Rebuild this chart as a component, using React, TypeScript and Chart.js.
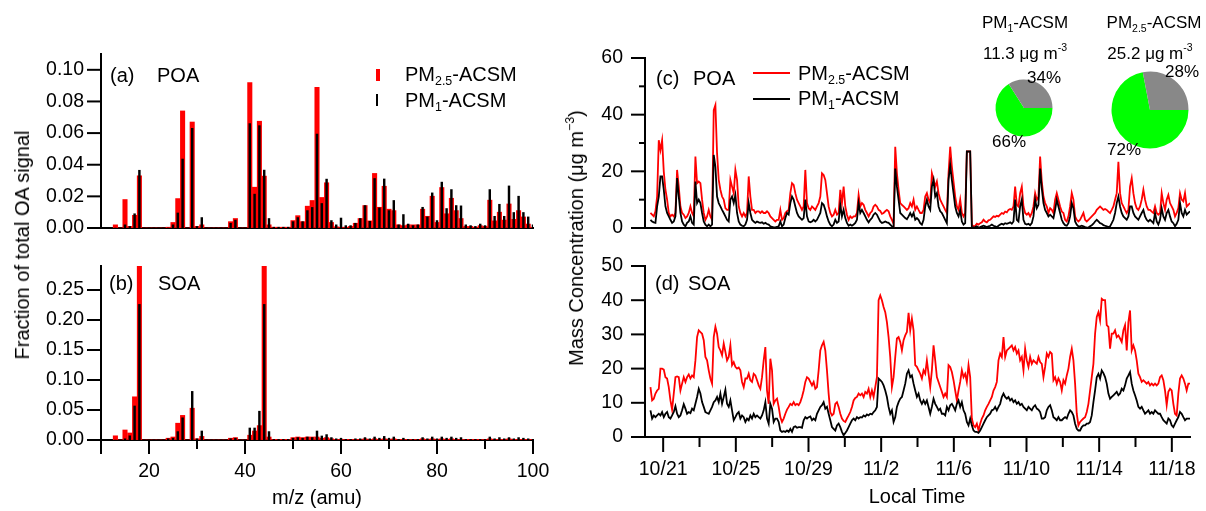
import React, { useEffect, useRef } from 'react';
import { Chart, registerables } from 'chart.js';

Chart.register(...registerables);

const FONT = '"Liberation Sans", Arial, Helvetica, sans-serif';
const TICK_SIZE = 19.5;
const LABEL_SIZE = 20;
const PIE_TEXT_SIZE = 17;
const RED = '#ff0000';
const BLACK = '#000000';

// ---------------- Mass spectra (panels a, b) ----------------
const massToCharge = [
  13, 14, 15, 16, 17, 18, 19, 20, 21, 22,
  23, 24, 25, 26, 27, 28, 29, 30, 31, 32,
  33, 34, 35, 36, 37, 38, 39, 40, 41, 42,
  43, 44, 45, 46, 47, 48, 49, 50, 51, 52,
  53, 54, 55, 56, 57, 58, 59, 60, 61, 62,
  63, 64, 65, 66, 67, 68, 69, 70, 71, 72,
  73, 74, 75, 76, 77, 78, 79, 80, 81, 82,
  83, 84, 85, 86, 87, 88, 89, 90, 91, 92,
  93, 94, 95, 96, 97, 98, 99, 100,
];

const poaFractionPM25 = [
  0.002, 0, 0.018, 0.001, 0.008, 0.033, 0, 0, 0, 0,
  0, 0.0005, 0.0035, 0.0186, 0.074, 0, 0.067, 0.001, 0.002, 0,
  0, 0, 0, 0, 0.004, 0.006, 0, 0, 0.092, 0.0258,
  0.0675, 0.0328, 0.002, 0.0005, 0.0005, 0.0005, 0.0005, 0.0047, 0.0078, 0.004,
  0.0138, 0.0174, 0.089, 0.0193, 0.0286, 0.0035, 0.0008, 0.0005, 0.0005, 0.001,
  0.003, 0.006, 0.0142, 0.0045, 0.0345, 0.0131, 0.0264, 0.0119, 0.011, 0.002,
  0.0015, 0.002, 0.002, 0.002, 0.0119, 0.0074, 0.0201, 0.0035, 0.0256, 0.009,
  0.0188, 0.011, 0.006, 0.001, 0.001, 0.0005, 0.0015, 0.001, 0.0176, 0.0045,
  0.01, 0.005, 0.0152, 0.0055, 0.011, 0.007, 0.0025, 0.0005,
];

const poaFractionPM1 = [
  0, 0, 0.002, 0.001, 0.009, 0.0365, 0, 0, 0, 0,
  0, 0, 0.002, 0.0095, 0.0436, 0, 0.063, 0.001, 0.0066, 0,
  0, 0, 0, 0, 0.003, 0.005, 0, 0, 0.066, 0.0214,
  0.0647, 0.0366, 0.006, 0.0005, 0.0005, 0.0005, 0.0005, 0.004, 0.0066, 0.004,
  0.011, 0.013, 0.0594, 0.0155, 0.0309, 0.0047, 0.002, 0.0063, 0.0015, 0.0015,
  0.003, 0.006, 0.0142, 0.0042, 0.0313, 0.0127, 0.031, 0.011, 0.0174, 0.002,
  0.0085, 0.0025, 0.0015, 0.002, 0.0131, 0.007, 0.0222, 0.0047, 0.029, 0.0123,
  0.0243, 0.0142, 0.014, 0.002, 0.0015, 0.001, 0.0025, 0.0015, 0.0243, 0.0074,
  0.015, 0.0074, 0.0266, 0.0098, 0.0201, 0.0098, 0.007, 0.002,
];

const soaFractionPM25 = [
  0.007, 0, 0.0167, 0.0117, 0.072, 0.31, 0, 0, 0, 0,
  0, 0.003, 0.005, 0.028, 0.041, 0, 0.053, 0.002, 0.006, 0,
  0, 0, 0, 0, 0.003, 0.004, 0, 0, 0.008, 0.015,
  0.024, 0.31, 0.005, 0.001, 0.001, 0.001, 0.001, 0.004, 0.005, 0.004,
  0.005, 0.005, 0.005, 0.003, 0.004, 0.002, 0.001, 0.001, 0.001, 0.001,
  0.001, 0.001, 0.002, 0.001, 0.002, 0.001, 0.002, 0.001, 0.002, 0.001,
  0.001, 0.001, 0.001, 0.001, 0.002, 0.001, 0.002, 0.001, 0.002, 0.001,
  0.002, 0.001, 0.001, 0.001, 0.001, 0.001, 0.001, 0.001, 0.002, 0.001,
  0.001, 0.001, 0.002, 0.001, 0.001, 0.001, 0.001, 0.001,
];

const soaFractionPM1 = [
  0, 0, 0.002, 0.007, 0.0567, 0.226, 0, 0, 0, 0,
  0, 0.002, 0.003, 0.014, 0.037, 0, 0.081, 0.002, 0.015, 0,
  0, 0, 0, 0, 0.002, 0.003, 0, 0, 0.02, 0.02,
  0.048, 0.226, 0.014, 0.001, 0.001, 0.001, 0.001, 0.003, 0.004, 0.003,
  0.005, 0.004, 0.015, 0.0067, 0.009, 0.004, 0.002, 0.003, 0.001, 0.001,
  0.002, 0.002, 0.004, 0.002, 0.005, 0.003, 0.006, 0.003, 0.005, 0.001,
  0.003, 0.001, 0.001, 0.001, 0.004, 0.002, 0.005, 0.002, 0.005, 0.003,
  0.005, 0.003, 0.004, 0.001, 0.001, 0.001, 0.001, 0.001, 0.005, 0.002,
  0.004, 0.002, 0.004, 0.002, 0.004, 0.003, 0.002, 0.001,
];

const massTickValues = [20, 40, 60, 80, 100];
const massMinorTicks = [10, 30, 50, 70, 90];
const poaFractionTicks = [0, 0.02, 0.04, 0.06, 0.08, 0.1];
const soaFractionTicks = [0, 0.05, 0.1, 0.15, 0.2, 0.25];

// ---------------- Time series (panels c, d) ----------------
// days since 10/20 00:00, evenly spaced samples
const firstSampleDay = 0.3;
const lastSampleDay = 30.0;
const sampleCount = 325;

const poaConcPM25 = [
  5.3, 4.7, 4.1, 5.9, 11.1, 31.0, 27.5, 31.0, 19.9, 13.5,
  10.0, 5.3, 4.1, 4.7, 4.1, 5.3, 20.5, 14.6, 7.6, 5.3,
  4.7, 3.5, 4.1, 5.3, 7.6, 5.3, 4.1, 25.2, 15.8, 16.4,
  15.8, 10.0, 5.3, 2.9, 4.1, 6.4, 4.1, 2.9, 41.6, 43.4,
  26.4, 17.0, 13.5, 11.1, 10.0, 7.0, 6.4, 6.4, 17.0, 14.6,
  12.3, 20.5, 17.0, 7.6, 5.3, 4.1, 5.3, 4.1, 5.3, 18.2,
  11.1, 6.4, 6.4, 5.3, 5.9, 5.9, 5.3, 5.9, 5.3, 5.3,
  5.9, 5.3, 4.1, 3.5, 2.9, 2.3, 2.9, 2.9, 6.4, 2.9,
  3.5, 5.3, 5.9, 6.4, 12.3, 15.8, 15.2, 12.3, 10.0, 8.8,
  7.6, 6.4, 7.6, 20.5, 8.8, 7.0, 6.4, 7.6, 7.0, 6.4,
  7.6, 8.8, 11.1, 19.3, 18.7, 17.0, 12.3, 7.6, 5.3, 4.1,
  4.7, 6.4, 4.7, 5.3, 13.5, 8.8, 14.6, 7.6, 4.7, 2.9,
  4.1, 3.5, 4.1, 4.1, 5.3, 11.7, 7.6, 8.8, 8.2, 6.4,
  5.3, 4.1, 5.3, 5.9, 7.6, 8.2, 7.6, 6.4,
  6.0, 5.0, 5.3, 5.9, 6.4, 5.9, 4.1, 2.9, 1.5, 28.7,
  19.3, 13.5, 8.8, 8.2, 7.6, 7.0, 6.4, 7.0, 8.8, 7.6,
  10.0, 6.4, 7.6, 6.4, 5.3, 5.3, 6.4, 11.1, 12.3, 10.0,
  8.8, 19.3, 17.0, 14.6, 16.4, 12.3, 10.0, 8.8, 7.6, 6.4,
  5.3, 19.3, 28.7, 21.7, 16.4, 11.1, 7.6, 6.4, 10.0, 5.3,
  4.1, 5.3, 27.0, 27.0, 27.0, 1.2, 0.6, 0.8, 1.5, 1.2,
  1.7, 2.0, 2.9, 2.3, 2.0, 2.7, 2.9, 3.5, 4.1, 3.9,
  4.3, 4.1, 4.7, 5.3, 5.0, 5.8, 5.5, 6.4, 6.7, 6.4,
  7.6, 14.6, 8.2, 7.6, 12.3, 14.6, 7.6, 5.3, 4.7, 5.3,
  4.1, 5.3, 7.6, 12.3, 10.0, 11.1, 25.2, 16.4, 11.1, 8.8,
  7.6, 5.3, 7.0, 6.4, 5.3, 10.0, 12.3, 10.0, 7.6, 5.8,
  5.3, 2.9, 2.3, 4.1, 7.6, 12.3, 10.0, 4.1, 2.9, 2.3,
  2.9, 4.1, 5.3, 2.9, 2.3, 2.9, 3.5, 4.1, 4.7, 5.3,
  6.4, 7.0, 7.6, 7.0, 6.4, 6.7, 6.4, 5.8, 5.3, 6.4,
  7.6, 10.0, 12.3, 23.4, 12.3, 8.8, 7.6, 6.4, 5.3, 6.4,
  14.6, 17.6, 12.3, 8.8, 7.0, 6.4, 7.6, 10.0, 13.5, 10.0,
  7.6, 6.4, 6.4, 5.8, 5.3, 7.6, 5.3, 4.7, 5.3, 12.3,
  8.8, 6.4, 10.0, 11.7, 8.8, 7.6, 6.4, 4.1, 5.3, 7.0,
  12.3, 10.0, 9.4, 12.3, 7.6, 8.2, 8.8,
];

const poaConcPM1 = [
  2.9, 2.3, 2.0, 1.8, 7.6, 11.1, 18.2, 18.2, 13.5, 7.6,
  5.3, 4.1, 2.9, 1.8, 2.3, 4.1, 17.6, 11.1, 5.3, 2.3,
  1.2, 0.6, 1.8, 2.3, 4.1, 1.8, 1.2, 16.4, 8.8, 10.0,
  8.8, 5.3, 2.3, 1.2, 0.6, 1.2, 0.6, 1.2, 25.8, 21.7,
  11.1, 8.8, 7.6, 6.4, 5.3, 4.1, 2.9, 2.3, 10.0, 11.1,
  8.8, 11.7, 5.3, 2.3, 1.2, 0.8, 0.6, 1.2, 2.9, 8.8,
  5.3, 2.9, 2.3, 1.8, 2.3, 2.0, 1.8, 2.0, 1.5, 1.8,
  1.4, 1.2, 0.6, 0.4, 0.2, 0.2, 0.4, 0.6, 2.3, 0.6,
  1.2, 3.5, 5.3, 4.7, 8.8, 11.1, 10.0, 7.6, 5.3, 4.1,
  3.5, 2.9, 3.5, 10.0, 4.1, 2.3, 2.0, 2.3, 2.9, 2.3,
  2.9, 4.1, 5.3, 8.8, 8.2, 6.4, 4.1, 2.3, 1.2, 0.6,
  1.2, 2.9, 1.8, 2.3, 8.2, 4.1, 6.4, 3.5, 1.8, 0.8,
  1.2, 0.8, 1.2, 1.8, 2.9, 8.8, 5.3, 6.4, 5.3, 4.1,
  2.9, 2.0, 2.9, 3.5, 4.7, 5.3, 4.7, 3.5,
  2.3, 1.8, 2.0, 2.3, 2.0, 1.8, 1.2, 0.6, 0.4, 21.0,
  14.6, 10.0, 5.3, 4.7, 4.1, 3.5, 3.1, 4.1, 5.3, 4.1,
  5.3, 2.9, 3.5, 2.9, 1.7, 1.2, 2.9, 7.6, 10.0, 7.6,
  6.4, 14.6, 17.0, 11.1, 12.3, 7.6, 5.9, 5.3, 4.1, 2.9,
  1.7, 17.0, 22.3, 17.0, 12.3, 7.6, 5.3, 4.1, 6.4, 2.3,
  1.2, 1.7, 27.0, 27.0, 27.0, 0.3, 0.2, 0.3, 0.6, 0.2,
  0.3, 0.6, 0.8, 0.6, 0.3, 0.6, 0.8, 1.2, 0.8, 0.6,
  0.3, 0.8, 1.2, 1.5, 1.2, 1.7, 1.5, 1.7, 2.0, 1.5,
  2.3, 10.0, 2.9, 2.3, 7.6, 10.0, 2.9, 1.5, 1.2, 1.5,
  1.0, 1.7, 4.1, 10.0, 7.0, 8.2, 21.0, 14.0, 8.8, 6.4,
  5.3, 4.1, 4.7, 4.1, 3.5, 6.4, 10.0, 7.6, 5.3, 2.9,
  1.7, 1.0, 0.8, 1.7, 4.1, 8.8, 7.0, 2.3, 1.2, 0.6,
  0.6, 0.8, 0.6, 0.3, 0.1, 0.2, 0.6, 1.0, 1.5, 2.3,
  2.9, 2.3, 1.7, 1.5, 1.0, 0.8, 0.6, 0.3, 0.6, 1.7,
  2.9, 5.3, 8.8, 11.1, 7.6, 5.3, 4.1, 3.5, 2.9, 4.1,
  7.6, 7.6, 5.3, 4.1, 3.5, 2.9, 4.1, 5.3, 6.4, 4.1,
  2.9, 2.3, 2.9, 2.3, 1.7, 5.3, 2.3, 1.2, 2.9, 7.0,
  4.1, 2.9, 5.3, 6.4, 4.1, 2.3, 1.7, 0.6, 1.5, 2.9,
  8.8, 5.3, 4.1, 6.4, 4.7, 5.3, 5.9,
];

const soaConcPM25 = [
  14.6, 10.7, 11.2, 12.7, 13.6, 14.1, 20.0, 20.0, 19.7, 17.5,
  17.1, 14.6, 10.7, 8.0, 12.7, 17.5, 17.7, 17.5, 13.6, 15.6,
  17.5, 16.1, 17.5, 18.3, 17.1, 18.0, 17.5, 22.4, 29.2, 31.2,
  30.7, 30.2, 28.3, 23.4, 22.4, 19.5, 17.1, 15.6, 29.2, 32.2,
  30.2, 26.3, 25.3, 23.9, 27.3, 24.9, 22.4, 23.4, 26.8, 21.0,
  21.9, 20.5, 20.0, 20.3, 19.5, 16.1, 14.6, 17.1, 17.1, 18.5,
  16.6, 16.1, 18.5, 18.0, 16.6, 15.1, 14.1, 17.5, 22.4, 26.3,
  13.6, 9.7, 22.9, 19.5, 9.7, 10.7, 11.2, 8.8, 5.8, 4.4,
  5.4, 6.8, 8.0, 8.8, 9.7, 9.3, 10.2, 9.3, 9.7, 9.3,
  10.2, 11.7, 13.6, 16.1, 17.5, 17.1, 16.1, 15.1, 16.1, 14.1,
  14.6, 19.5, 25.3, 26.8, 27.8, 25.3, 19.5, 12.7, 7.3, 6.3,
  6.8, 9.7, 10.2, 8.8, 6.8, 5.4, 4.7, 4.4, 5.4, 6.3,
  7.3, 8.8, 10.7, 11.4, 11.7, 12.7, 12.2, 12.7, 11.7, 13.2,
  12.7, 14.1, 11.7, 13.6, 11.7, 14.6, 17.5, 40.0,
  41.4, 40.0, 38.0, 36.5, 33.6, 29.2, 23.4, 14.6, 17.5, 23.4,
  28.8, 29.2, 27.8, 25.3, 28.3, 29.7, 30.7, 36.3, 31.2, 34.6,
  31.2, 21.0, 20.5, 19.5, 18.5, 17.1, 19.5, 18.5, 22.4, 18.5,
  14.6, 19.5, 26.8, 22.4, 17.5, 16.1, 14.6, 13.2, 11.7, 12.7,
  11.7, 21.0, 20.5, 19.0, 16.6, 13.6, 10.7, 13.6, 16.1, 19.5,
  17.5, 18.5, 16.1, 21.0, 17.5, 5.4, 3.4, 2.9, 3.9, 1.9,
  3.9, 5.4, 6.3, 7.8, 8.8, 9.7, 10.7, 11.7, 13.6, 14.6,
  16.1, 22.4, 24.4, 23.4, 29.2, 23.4, 25.3, 25.8, 26.3, 26.8,
  25.3, 26.3, 24.4, 25.3, 22.4, 23.4, 19.5, 25.8, 22.4, 20.5,
  23.4, 21.4, 22.4, 21.9, 21.4, 23.4, 21.9, 21.4, 17.5, 20.5,
  24.4, 23.4, 24.9, 24.4, 16.6, 17.5, 15.6, 17.1, 16.1, 13.6,
  16.6, 15.6, 18.0, 20.0, 23.4, 25.8, 22.4, 15.6, 6.8, 3.4,
  4.4, 4.9, 5.4, 5.8, 7.3, 9.7, 13.6, 17.5, 21.4, 30.2,
  35.1, 36.5, 34.1, 40.4, 40.0, 40.0, 32.7, 32.2, 25.8, 30.2,
  30.2, 31.2, 29.2, 29.7, 28.8, 27.8, 31.2, 32.7, 25.3, 33.6,
  37.0, 25.3, 26.8, 25.3, 22.4, 18.5, 17.5, 16.1, 16.6, 16.1,
  15.6, 16.1, 15.1, 15.6, 15.1, 15.6, 15.1, 15.6, 17.5, 18.0,
  16.6, 13.6, 9.3, 13.2, 14.1, 13.6, 9.7, 6.8, 6.3, 12.7,
  17.1, 18.0, 17.1, 15.6, 13.6, 15.6, 15.6,
];

const soaConcPM1 = [
  7.8, 5.4, 6.3, 5.8, 6.3, 6.8, 6.3, 7.3, 5.8, 6.8,
  7.3, 5.8, 5.4, 6.3, 7.3, 9.0, 6.8, 5.8, 6.3, 7.8,
  9.6, 8.3, 6.8, 7.3, 7.0, 8.3, 7.8, 9.7, 11.7, 14.1,
  12.7, 10.2, 8.8, 7.3, 7.0, 6.8, 7.8, 8.8, 10.2, 10.7,
  11.7, 10.2, 12.7, 9.7, 11.7, 13.8, 9.7, 8.8, 10.7, 7.8,
  4.9, 5.8, 6.8, 7.3, 5.4, 6.3, 5.8, 4.4, 5.4, 4.9,
  6.3, 5.4, 6.8, 5.8, 6.3, 5.8, 5.4, 6.3, 7.8, 10.2,
  5.4, 3.9, 9.7, 8.3, 4.4, 5.4, 5.4, 4.4, 1.9, 1.5,
  1.7, 1.5, 1.9, 1.5, 2.4, 1.5, 2.9, 3.1, 2.7, 2.9,
  2.9, 2.7, 4.9, 5.8, 5.4, 5.8, 6.0, 4.9, 5.4, 4.9,
  6.8, 7.8, 8.8, 9.3, 10.2, 8.3, 8.8, 6.8, 4.9, 2.9,
  2.4, 1.9, 3.4, 3.9, 2.9, 1.5, 0.5, 1.2, 1.9, 2.9,
  3.9, 4.9, 5.4, 4.9, 5.8, 5.4, 5.8, 5.7, 6.3, 6.0,
  6.6, 6.3, 6.8, 6.6, 7.3, 7.8, 8.8, 17.1,
  16.6, 16.1, 15.1, 13.6, 11.7, 8.8, 6.8, 7.8, 4.4, 5.8,
  8.8, 10.2, 11.2, 11.7, 13.6, 15.6, 18.5, 19.5, 17.5, 18.0,
  15.6, 13.6, 11.7, 12.7, 10.7, 9.7, 10.7, 9.7, 10.7, 8.8,
  6.8, 8.8, 11.2, 9.7, 8.8, 7.8, 8.3, 6.8, 6.8, 6.3,
  8.8, 7.8, 9.3, 9.7, 8.8, 7.8, 9.7, 10.7, 8.8, 10.2,
  7.8, 6.8, 4.4, 3.4, 5.4, 3.4, 1.9, 1.5, 1.5, 1.2,
  1.9, 2.9, 3.9, 4.9, 5.8, 6.3, 6.8, 7.8, 8.0, 8.8,
  7.8, 8.8, 9.7, 11.7, 12.7, 11.7, 11.2, 11.7, 10.7, 11.2,
  10.2, 10.7, 9.7, 10.2, 9.3, 9.7, 8.8, 8.3, 7.8, 8.8,
  8.3, 7.8, 8.8, 9.3, 8.3, 8.0, 7.3, 5.4, 5.4, 5.8,
  7.8, 8.8, 9.3, 7.8, 5.8, 5.4, 4.9, 5.8, 4.9, 4.9,
  5.4, 5.8, 5.4, 6.8, 7.8, 7.3, 6.3, 3.9, 2.4, 1.9,
  1.9, 2.9, 3.4, 3.4, 3.9, 3.9, 4.4, 6.3, 10.2, 13.6,
  17.5, 18.5, 17.1, 19.5, 18.7, 17.5, 15.6, 12.7, 11.2, 11.7,
  12.2, 12.7, 13.2, 12.2, 12.7, 14.1, 13.6, 15.1, 17.1, 18.0,
  19.0, 15.6, 13.6, 12.2, 10.7, 8.8, 8.3, 8.8, 7.8, 6.8,
  7.3, 7.8, 6.8, 7.3, 6.8, 7.8, 7.3, 6.8, 6.8, 5.8,
  4.9, 4.4, 3.9, 5.4, 4.9, 3.4, 2.9, 3.9, 4.9, 5.8,
  7.3, 6.8, 5.8, 4.9, 5.4, 5.4, 5.4,
];

const dateTickDays = [1, 5, 9, 13, 17, 21, 25, 29];
const dateTickLabels = ['10/21', '10/25', '10/29', '11/2', '11/6', '11/10', '11/14', '11/18'];
const dateMinorDays = [3, 7, 11, 15, 19, 23, 27];
const poaConcTicks = [0, 20, 40, 60];
const poaConcMinor = [10, 30, 50];
const soaConcTicks = [0, 10, 20, 30, 40, 50];

// ---------------- Pies ----------------
const pieLabels = ['SOA', 'POA'];
const pm1Shares = [66, 34];
const pm25Shares = [72, 28];
const pieColors = ['#00ff00', '#888888'];

// ---------------- helpers ----------------
type Box = { left: number; top: number; width: number; height: number };
type Area = { l: number; t: number; r: number; b: number };

function padFor(box: Box, area: Area, yW: number, xH: number) {
  return {
    left: area.l - box.left - yW,
    top: area.t - box.top,
    right: box.left + box.width - area.r,
    bottom: box.top + box.height - area.b - xH,
  };
}

function axis(o: {
  min: number;
  max: number;
  ticks: number[];
  format?: (v: number) => string;
  show: boolean;
  padding: number;
  size: number;
  vertical: boolean;
}) {
  return {
    type: 'linear',
    min: o.min,
    max: o.max,
    offset: false,
    grid: { display: false, drawTicks: false },
    border: { display: true, color: '#000', width: 2 },
    ticks: {
      display: o.show,
      autoSkip: false,
      maxRotation: 0,
      minRotation: 0,
      color: '#000',
      padding: o.padding,
      font: { family: FONT, size: TICK_SIZE },
      callback: (v: number) => (o.format ? o.format(v) : String(v)),
    },
    afterBuildTicks: (s: any) => {
      s.ticks = o.ticks.map((v) => ({ value: v }));
    },
    afterFit: (s: any) => {
      if (o.vertical) s.width = o.size;
      else s.height = o.size;
      s.paddingTop = 0;
      s.paddingBottom = 0;
      s.paddingLeft = 0;
      s.paddingRight = 0;
    },
  };
}

type TickSpec = { axis: 'x' | 'y'; values: number[]; length: number };
function tickPlugin(specs: TickSpec[]) {
  return {
    id: 'manualTicks',
    afterDraw(chart: any) {
      const { ctx, chartArea } = chart;
      ctx.save();
      ctx.strokeStyle = '#000';
      ctx.lineWidth = 2;
      specs.forEach((s) => {
        const scale = chart.scales[s.axis];
        s.values.forEach((v) => {
          const p = scale.getPixelForValue(v);
          ctx.beginPath();
          if (s.axis === 'y') {
            ctx.moveTo(chartArea.left - s.length, p);
            ctx.lineTo(chartArea.left, p);
          } else {
            ctx.moveTo(p, chartArea.bottom);
            ctx.lineTo(p, chartArea.bottom + s.length);
          }
          ctx.stroke();
        });
      });
      ctx.restore();
    },
  };
}

const baseOptions = {
  responsive: false,
  maintainAspectRatio: false,
  animation: false,
  devicePixelRatio: 1,
  events: [],
  plugins: { legend: { display: false }, tooltip: { enabled: false }, title: { display: false } },
};

function ChartCanvas({ box, build }: { box: Box; build: () => any }) {
  const ref = useRef<HTMLCanvasElement>(null);
  useEffect(() => {
    const chart = new Chart(ref.current as HTMLCanvasElement, build());
    return () => chart.destroy();
  }, []);
  return (
    <div style={{ position: 'absolute', left: box.left, top: box.top, width: box.width, height: box.height }}>
      <canvas ref={ref} width={box.width} height={box.height} style={{ width: box.width, height: box.height, display: 'block' }} />
    </div>
  );
}

function spectrumConfig(box: Box, area: Area, pm1: number[], pm25: number[], yMax: number, yTicks: number[], showX: boolean) {
  const specs: TickSpec[] = [{ axis: 'y', values: yTicks, length: 14 }];
  if (showX) {
    specs.push({ axis: 'x', values: [10, ...massTickValues], length: 14 });
    specs.push({ axis: 'x', values: massMinorTicks.filter((v) => v !== 10), length: 9 });
  }
  const xH = showX ? 45 : 0;
  return {
    type: 'bar',
    data: {
      datasets: [
        {
          label: 'PM1-ACSM',
          data: massToCharge.map((m, i) => ({ x: m, y: pm1[i] })),
          backgroundColor: BLACK,
          borderWidth: 0,
          barThickness: 1.8,
          grouped: false,
        },
        {
          label: 'PM2.5-ACSM',
          data: massToCharge.map((m, i) => ({ x: m, y: pm25[i] })),
          backgroundColor: RED,
          borderWidth: 0,
          barThickness: 4.4,
          grouped: false,
        },
      ],
    },
    options: {
      ...baseOptions,
      layout: { padding: padFor(box, area, 100, xH) },
      scales: {
        x: axis({ min: 10, max: 100, ticks: showX ? massTickValues : [], show: showX, padding: 20, size: xH, vertical: false }),
        y: axis({ min: 0, max: yMax, ticks: yTicks, format: (v) => v.toFixed(2), show: true, padding: 17, size: 100, vertical: true }),
      },
    },
    plugins: [tickPlugin(specs)],
  };
}

function timeConfig(
  box: Box,
  area: Area,
  pm1: number[],
  pm25: number[],
  yMax: number,
  yTicks: number[],
  yMinor: number[],
  showX: boolean
) {
  const days = Array.from({ length: sampleCount }, (_, i) => firstSampleDay + (i * (lastSampleDay - firstSampleDay)) / (sampleCount - 1));
  const specs: TickSpec[] = [
    { axis: 'y', values: yTicks, length: 14 },
    { axis: 'y', values: yMinor, length: 6 },
  ];
  if (showX) {
    specs.push({ axis: 'x', values: dateTickDays, length: 15 });
    specs.push({ axis: 'x', values: dateMinorDays, length: 10 });
  }
  const xH = showX ? 45 : 0;
  return {
    type: 'line',
    data: {
      datasets: [
        {
          label: 'PM1-ACSM',
          data: days.map((d, i) => ({ x: d, y: pm1[i] })),
          borderColor: BLACK,
          borderWidth: 1.8,
          pointRadius: 0,
          tension: 0,
          fill: false,
        },
        {
          label: 'PM2.5-ACSM',
          data: days.map((d, i) => ({ x: d, y: pm25[i] })),
          borderColor: RED,
          borderWidth: 1.8,
          pointRadius: 0,
          tension: 0,
          fill: false,
        },
      ],
    },
    options: {
      ...baseOptions,
      layout: { padding: padFor(box, area, 60, xH) },
      scales: {
        x: axis({
          min: 0,
          max: 30,
          ticks: showX ? dateTickDays : [],
          format: (v) => dateTickLabels[dateTickDays.indexOf(v)] ?? '',
          show: showX,
          padding: 21,
          size: xH,
          vertical: false,
        }),
        y: axis({ min: 0, max: yMax, ticks: yTicks, show: true, padding: 22, size: 60, vertical: true }),
      },
    },
    plugins: [tickPlugin(specs)],
  };
}

function pieConfig(shares: number[], radius: number) {
  return {
    type: 'pie',
    data: {
      labels: pieLabels,
      datasets: [
        {
          data: shares,
          backgroundColor: pieColors,
          borderWidth: 0,
          radius,
          hoverOffset: 0,
          offset: 0,
        },
      ],
    },
    options: {
      ...baseOptions,
      rotation: 90,
      layout: { padding: 0 },
    },
  };
}

// ---------------- text helpers ----------------
const Sub = ({ children }: { children: React.ReactNode }) => (
  <span style={{ fontSize: '0.62em', position: 'relative', top: '0.35em' }}>{children}</span>
);
const Sup = ({ children }: { children: React.ReactNode }) => (
  <span style={{ fontSize: '0.62em', position: 'relative', top: '-0.75em' }}>{children}</span>
);

function Txt({
  x,
  y,
  children,
  center = false,
  size = LABEL_SIZE,
  rotate = false,
}: {
  x: number;
  y: number;
  children: React.ReactNode;
  center?: boolean;
  size?: number;
  rotate?: boolean;
}) {
  const tx = center || rotate ? '-50%' : '0';
  return (
    <div
      style={{
        position: 'absolute',
        left: x,
        top: y,
        transform: `translate(${tx}, -50%)${rotate ? ' rotate(-90deg)' : ''}`,
        fontFamily: FONT,
        fontSize: size,
        lineHeight: 1,
        whiteSpace: 'nowrap',
        color: '#000',
      }}
    >
      {children}
    </div>
  );
}

const Swatch = ({ left, top, width, height, color }: { left: number; top: number; width: number; height: number; color: string }) => (
  <div style={{ position: 'absolute', left, top, width, height, background: color }} />
);

// ---------------- layout ----------------
const boxA: Box = { left: 0, top: 28, width: 560, height: 222 };
const areaA: Area = { l: 101, t: 54, r: 533, b: 228 };
const boxB: Box = { left: 0, top: 244, width: 560, height: 267 };
const areaB: Area = { l: 101, t: 266, r: 533, b: 440 };
const boxC: Box = { left: 560, top: 28, width: 646, height: 222 };
const areaC: Area = { l: 645, t: 58, r: 1190, b: 228 };
const boxD: Box = { left: 560, top: 244, width: 646, height: 267 };
const areaD: Area = { l: 645, t: 266, r: 1190, b: 437 };
const boxPie1: Box = { left: 974, top: 58, width: 100, height: 100 };
const boxPie2: Box = { left: 1100, top: 60, width: 100, height: 100 };

export default function App() {
  return (
    <div style={{ position: 'fixed', left: 0, top: 0, width: 1206, height: 511, background: '#fff', overflow: 'hidden' }}>
      <ChartCanvas box={boxA} build={() => spectrumConfig(boxA, areaA, poaFractionPM1, poaFractionPM25, 0.11, poaFractionTicks, false)} />
      <ChartCanvas box={boxB} build={() => spectrumConfig(boxB, areaB, soaFractionPM1, soaFractionPM25, 0.29, soaFractionTicks, true)} />
      <ChartCanvas box={boxC} build={() => timeConfig(boxC, areaC, poaConcPM1, poaConcPM25, 60, poaConcTicks, poaConcMinor, false)} />
      <ChartCanvas box={boxD} build={() => timeConfig(boxD, areaD, soaConcPM1, soaConcPM25, 50, soaConcTicks, [], true)} />
      <ChartCanvas box={boxPie1} build={() => pieConfig(pm1Shares, 28.5)} />
      <ChartCanvas box={boxPie2} build={() => pieConfig(pm25Shares, 38.5)} />

      {/* panel a */}
      <Txt x={110} y={75}>(a)</Txt>
      <Txt x={157} y={75}>POA</Txt>
      <Swatch left={376} top={69} width={4} height={12} color={RED} />
      <Swatch left={376} top={94} width={2} height={12} color={BLACK} />
      <Txt x={405} y={74}>
        PM<Sub>2.5</Sub>-ACSM
      </Txt>
      <Txt x={405} y={100}>
        PM<Sub>1</Sub>-ACSM
      </Txt>

      {/* panel b */}
      <Txt x={109} y={283}>(b)</Txt>
      <Txt x={158} y={283}>SOA</Txt>
      <Txt x={317} y={497} center>
        m/z (amu)
      </Txt>
      <Txt x={22} y={245} rotate>
        Fraction of total OA signal
      </Txt>

      {/* panel c */}
      <Txt x={656} y={78}>(c)</Txt>
      <Txt x={693} y={78}>POA</Txt>
      <Swatch left={753} top={72} width={37} height={2} color={RED} />
      <Swatch left={753} top={98} width={37} height={2} color={BLACK} />
      <Txt x={798} y={73}>
        PM<Sub>2.5</Sub>-ACSM
      </Txt>
      <Txt x={798} y={98}>
        PM<Sub>1</Sub>-ACSM
      </Txt>

      {/* panel d */}
      <Txt x={655} y={283}>(d)</Txt>
      <Txt x={688} y={283}>SOA</Txt>
      <Txt x={917} y={496} center>
        Local Time
      </Txt>
      <Txt x={576} y={238} rotate>
        Mass Concentration (μg m<Sup>−3</Sup>)
      </Txt>

      {/* pies */}
      <Txt x={1025} y={22} center size={PIE_TEXT_SIZE}>
        PM<Sub>1</Sub>-ACSM
      </Txt>
      <Txt x={1025} y={53} center size={PIE_TEXT_SIZE}>
        11.3 μg m<Sup>-3</Sup>
      </Txt>
      <Txt x={1027} y={77} size={PIE_TEXT_SIZE}>34%</Txt>
      <Txt x={992} y={141} size={PIE_TEXT_SIZE}>66%</Txt>

      <Txt x={1154} y={22} center size={PIE_TEXT_SIZE}>
        PM<Sub>2.5</Sub>-ACSM
      </Txt>
      <Txt x={1150} y={53} center size={PIE_TEXT_SIZE}>
        25.2 μg m<Sup>-3</Sup>
      </Txt>
      <Txt x={1165} y={71} size={PIE_TEXT_SIZE}>28%</Txt>
      <Txt x={1107} y={149} size={PIE_TEXT_SIZE}>72%</Txt>
    </div>
  );
}
